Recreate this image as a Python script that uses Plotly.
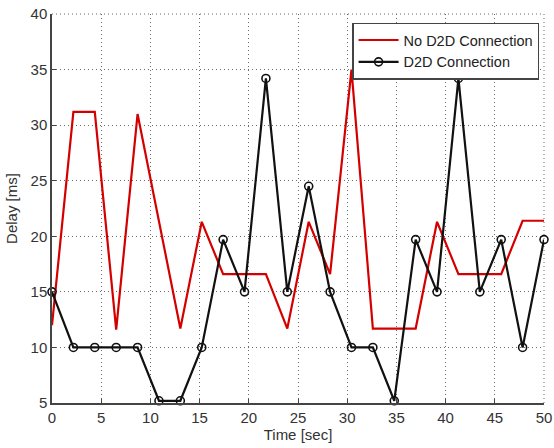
import numpy as np
import plotly.graph_objects as go

time_sec = list(np.round(np.linspace(0, 50, 24), 3))
no_d2d = [12.0, 31.2, 31.2, 11.6, 31.0, 21.4, 11.7, 21.3, 16.6, 16.6, 16.6, 11.7,
          21.3, 16.6, 35.0, 11.7, 11.7, 11.7, 21.3, 16.6, 16.6, 16.6, 21.4, 21.4]
d2d = [15.0, 10.0, 10.0, 10.0, 10.0, 5.2, 5.2, 10.0, 19.7, 15.0, 34.2, 15.0,
       24.5, 15.0, 10.0, 10.0, 5.2, 19.7, 15.0, 34.2, 15.0, 19.7, 10.0, 19.7]

FONT = "Liberation Sans, Arial"
GRID_DASH = "1px,3px"

fig = go.Figure()
fig.add_trace(go.Scatter(x=time_sec, y=no_d2d, mode="lines", name="No D2D Connection",
                         line=dict(color="#d40000", width=2.2), cliponaxis=False))
fig.add_trace(go.Scatter(x=time_sec, y=d2d, mode="lines+markers", name="D2D Connection",
                         line=dict(color="#111111", width=2.2), cliponaxis=False,
                         marker=dict(symbol="circle-open", size=8, color="#111111",
                                     line=dict(width=1.6, color="#111111"))))

axis_common = dict(showgrid=True, gridcolor="#6a6a6a", griddash=GRID_DASH, gridwidth=1,
                   zeroline=False, showline=True, linecolor="#444444", linewidth=1.5,
                   ticks="inside", ticklen=4, tickcolor="#444444", automargin=False,
                   ticklabeloverflow="allow",
                   tickfont=dict(family=FONT, size=15, color="#333333"))
fig.update_xaxes(range=[0, 50], dtick=5, title=dict(text="Time [sec]", standoff=4,
                 font=dict(family=FONT, size=15, color="#333333")),
                 **axis_common)
fig.update_yaxes(range=[5, 40], dtick=5, title=dict(text="Delay [ms]", standoff=9,
                 font=dict(family=FONT, size=15, color="#333333")),
                 **axis_common)

# dotted frame on the top/right edges, like the grid
fig.add_shape(type="line", xref="paper", yref="paper", x0=1, x1=1, y0=0, y1=1,
              line=dict(color="#6a6a6a", width=1, dash=GRID_DASH), layer="below")
fig.add_shape(type="line", xref="paper", yref="paper", x0=0, x1=1, y0=1, y1=1,
              line=dict(color="#6a6a6a", width=1, dash=GRID_DASH), layer="below")

fig.update_layout(width=554, height=448, margin=dict(l=52, r=10, t=14, b=45),
                  plot_bgcolor="white", paper_bgcolor="white",
                  font=dict(family=FONT, color="#222222"),
                  legend=dict(x=0.99, y=0.978, xanchor="right", yanchor="top",
                              bgcolor="white", bordercolor="#444444", borderwidth=1.5,
                              font=dict(size=14.5, color="#222222"),
                              tracegroupgap=0, itemwidth=40))
fig.write_html("out.html", post_script="document.body.style.margin='0';",
               config={"displayModeBar": False})
